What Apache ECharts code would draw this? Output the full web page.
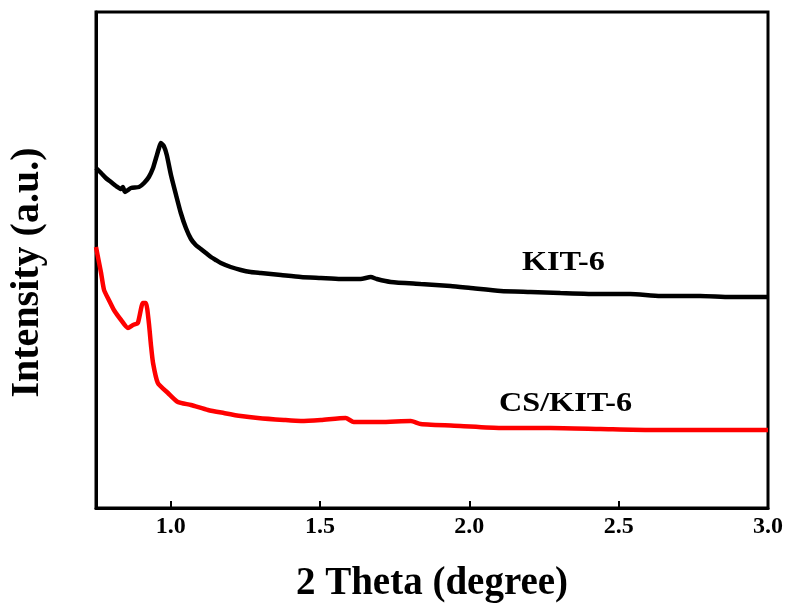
<!DOCTYPE html>
<html>
<head>
<meta charset="utf-8">
<script src="https://cdn.jsdelivr.net/npm/echarts@6/dist/echarts.min.js"></script>
<style>
  html, body { margin: 0; padding: 0; background: #fff; }
  #main { width: 790px; height: 608px; }
</style>
</head>
<body>
<div id="main"></div>
<script>
// 2 theta values and intensities (a.u.)
var kitTheta = [0.750, 0.767, 0.783, 0.800, 0.817, 0.834, 0.840, 0.847, 0.867, 0.894,
    0.911, 0.927, 0.941, 0.951, 0.961, 0.967, 0.977, 0.987, 1.001, 1.018,
    1.034, 1.051, 1.068, 1.084, 1.101, 1.118, 1.135, 1.151, 1.168, 1.201,
    1.235, 1.268, 1.302, 1.369, 1.436, 1.503, 1.569, 1.636, 1.670, 1.690,
    1.737, 1.837, 1.937, 2.004, 2.105, 2.205, 2.305, 2.439, 2.539, 2.640,
    2.773, 2.874, 3.000];
var kitInt = [340, 335, 330, 326, 322, 319, 321, 316, 320, 321,
    325, 331, 340, 350, 360, 365, 362, 353, 333, 313,
    295, 280, 269, 263, 259, 255, 251, 248, 245, 241,
    238, 236, 235, 233, 231, 230, 229, 229, 231, 229,
    226, 224, 222, 220, 217, 216, 215, 214, 214, 212,
    212, 211, 211];

var csTheta = [0.750, 0.767, 0.777, 0.793, 0.810, 0.834, 0.857, 0.874, 0.890, 0.907,
    0.917, 0.927, 0.934, 0.941, 0.957, 0.991, 1.024, 1.068, 1.125, 1.178,
    1.235, 1.292, 1.379, 1.436, 1.503, 1.586, 1.613, 1.703, 1.804, 1.837,
    1.970, 2.105, 2.272, 2.439, 2.606, 2.773, 3.000];
var csInt = [261, 235, 218, 208, 198, 188, 180, 183, 185, 205,
    205, 185, 163, 145, 125, 115, 106, 103, 98, 95,
    92, 90, 88, 87, 88, 90, 86, 86, 87, 84,
    82, 80, 80, 79, 78, 78, 78];

var xTicks = [1.0, 1.5, 2.0, 2.5, 3.0];

function pairs(xs, ys) {
    var out = [];
    for (var i = 0; i < xs.length; i++) {
        out.push([xs[i], ys[i]]);
    }
    return out;
}

var chartObj = echarts.init(document.getElementById('main'));
var serif = '"Liberation Serif", "DejaVu Serif", serif';

var chartOpt = {
    animation: false,
    backgroundColor: '#fff',
    grid: {
        left: 95, right: 22, top: 12, bottom: 100,
        show: true, borderColor: '#000', borderWidth: 3
    },
    xAxis: {
        type: 'value',
        min: 0.75, max: 3.0, interval: 0.25,
        name: '2 Theta (degree)',
        nameLocation: 'middle',
        nameGap: 56,
        nameTextStyle: { fontFamily: serif, fontWeight: 'bold', fontSize: 39, color: '#000' },
        axisLine: { show: true, onZero: false, lineStyle: { color: '#000', width: 3 } },
        axisTick: {
            inside: true, length: 7, lineStyle: { color: '#000', width: 2 },
            customValues: xTicks
        },
        splitLine: { show: false },
        axisLabel: {
            margin: 7,
            customValues: xTicks,
            fontFamily: serif, fontWeight: 'bold', fontSize: 24, color: '#000',
            formatter: function (v) { return v.toFixed(1); }
        }
    },
    yAxis: {
        type: 'value',
        min: 0, max: 496,
        name: 'Intensity (a.u.)',
        nameLocation: 'middle',
        nameGap: 48,
        nameTextStyle: { fontFamily: serif, fontWeight: 'bold', fontSize: 40, color: '#000', padding: [0, 25, 0, 0] },
        axisLine: { show: true, lineStyle: { color: '#000', width: 3 } },
        axisTick: { show: false },
        axisLabel: { show: false },
        splitLine: { show: false }
    },
    series: [
        {
            name: 'KIT-6',
            type: 'line',
            data: pairs(kitTheta, kitInt),
            showSymbol: false,
            smooth: 0.2,
            lineStyle: { color: '#000', width: 4.5 },
            z: 3
        },
        {
            name: 'CS/KIT-6',
            type: 'line',
            data: pairs(csTheta, csInt),
            showSymbol: false,
            smooth: 0.2,
            lineStyle: { color: '#ff0000', width: 4.5 },
            z: 2
        }
    ],
    graphic: [
        {
            type: 'text', left: 522, top: 249, scaleX: 1.15,
            style: { text: 'KIT-6', font: 'bold 28px ' + serif, fill: '#000' }
        },
        {
            type: 'text', left: 499, top: 390, scaleX: 1.15,
            style: { text: 'CS/KIT-6', font: 'bold 28px ' + serif, fill: '#000' }
        }
    ]
};

chartObj.setOption(chartOpt);
</script>
</body>
</html>
